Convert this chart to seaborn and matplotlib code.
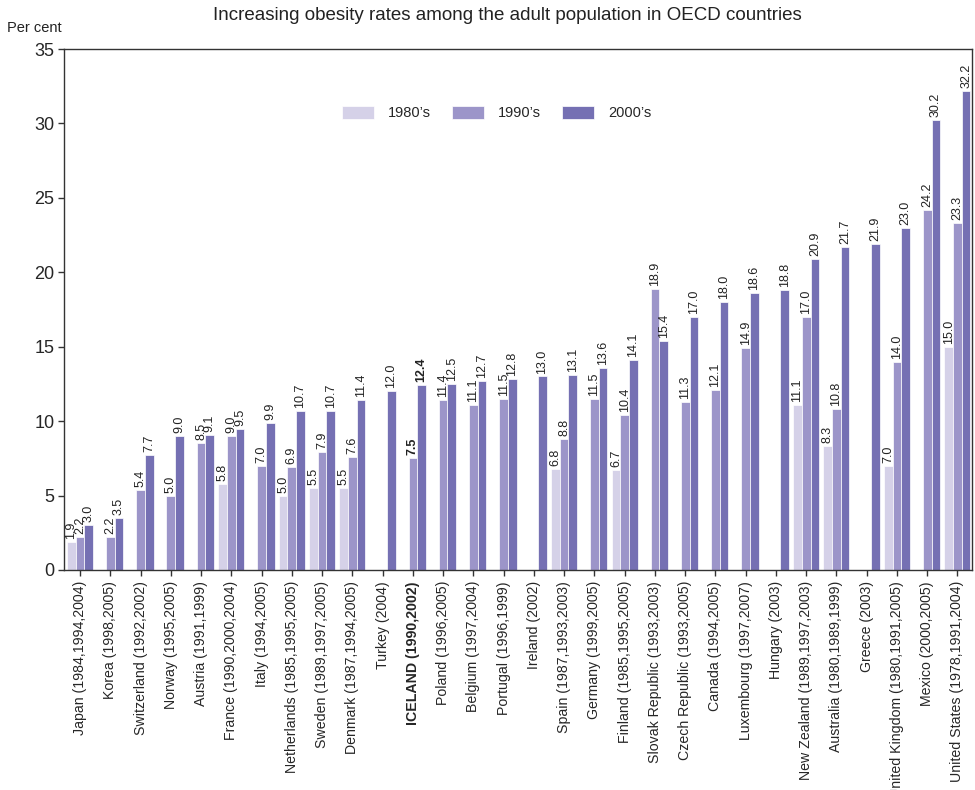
import numpy as np
import pandas as pd
import matplotlib
matplotlib.use("Agg")
import matplotlib.pyplot as plt
import seaborn as sns

countries = [
    "Japan (1984,1994,2004)", "Korea (1998,2005)", "Switzerland (1992,2002)",
    "Norway (1995,2005)", "Austria (1991,1999)", "France (1990,2000,2004)",
    "Italy (1994,2005)", "Netherlands (1985,1995,2005)", "Sweden (1989,1997,2005)",
    "Denmark (1987,1994,2005)", "Turkey (2004)", "ICELAND (1990,2002)",
    "Poland (1996,2005)", "Belgium (1997,2004)", "Portugal (1996,1999)",
    "Ireland (2002)", "Spain (1987,1993,2003)", "Germany (1999,2005)",
    "Finland (1985,1995,2005)", "Slovak Republic (1993,2003)",
    "Czech Republic (1993,2005)", "Canada (1994,2005)", "Luxembourg (1997,2007)",
    "Hungary (2003)", "New Zealand (1989,1997,2003)", "Australia (1980,1989,1999)",
    "Greece (2003)", "United Kingdom (1980,1991,2005)", "Mexico (2000,2005)",
    "United States (1978,1991,2004)",
]
nan = np.nan
rate_1980s = [1.9, nan, nan, nan, nan, 5.8, nan, 5.0, 5.5, 5.5, nan, nan,
              nan, nan, nan, nan, 6.8, nan, 6.7, nan, nan, nan, nan, nan,
              11.1, 8.3, nan, 7.0, nan, 15.0]
rate_1990s = [2.2, 2.2, 5.4, 5.0, 8.5, 9.0, 7.0, 6.9, 7.9, 7.6, nan, 7.5,
              11.4, 11.1, 11.5, nan, 8.8, 11.5, 10.4, 18.9, 11.3, 12.1, 14.9, nan,
              17.0, 10.8, nan, 14.0, 24.2, 23.3]
rate_2000s = [3.0, 3.5, 7.7, 9.0, 9.1, 9.5, 9.9, 10.7, 10.7, 11.4, 12.0, 12.4,
              12.5, 12.7, 12.8, 13.0, 13.1, 13.6, 14.1, 15.4, 17.0, 18.0, 18.6, 18.8,
              20.9, 21.7, 21.9, 23.0, 30.2, 32.2]
decades = ["1980\u2019s", "1990\u2019s", "2000\u2019s"]
palette = ["#d5d1e8", "#9c95c9", "#7570b3"]
highlight = "ICELAND (1990,2002)"

frames = []
for dec, vals in zip(decades, [rate_1980s, rate_1990s, rate_2000s]):
    frames.append(pd.DataFrame({"country": countries, "decade": dec, "rate": vals}))
df = pd.concat(frames, ignore_index=True).dropna()

sns.set_style("ticks")
plt.rcParams["font.family"] = ["Liberation Sans", "DejaVu Sans"]

fig = plt.figure(figsize=(9.75, 7.90), dpi=100)
ax = fig.add_axes([64 / 975, 1 - 570 / 790, (972 - 64) / 975, (570 - 49) / 790])

sns.barplot(data=df, x="country", y="rate", hue="decade", order=countries,
            hue_order=decades, palette=palette, width=0.86, dodge=True,
            edgecolor="white", linewidth=0.5, saturation=1, ax=ax,
            errorbar=None, legend=True)

# value labels above each bar
for cont in ax.containers:
    for bar in cont:
        h = bar.get_height()
        if not np.isfinite(h):
            continue
        cx = bar.get_x() + bar.get_width() / 2
        idx = int(round(cx))
        bold = countries[idx] == highlight
        ax.text(cx, h + 0.2, f"{h:.1f}", rotation=90, ha="center", va="bottom",
                fontsize=9, color="#222222",
                fontweight="bold" if bold else "normal")

ax.set_ylim(0, 35)
ax.set_yticks(range(0, 36, 5))
ax.set_xlim(-0.53, len(countries) - 0.52)
ax.set_xlabel("")
ax.set_ylabel("")
ax.tick_params(axis="y", labelsize=13, length=4, width=1, color="#333333", pad=3)
ax.tick_params(axis="x", labelsize=10.2, length=4, width=1, color="#333333", pad=4)
ax.set_xticks(range(len(countries)))
ax.set_xticklabels(countries, rotation=90, va="top", ha="center")
for lbl in ax.get_xticklabels():
    if lbl.get_text() == highlight:
        lbl.set_fontweight("bold")
for sp in ax.spines.values():
    sp.set_visible(True)
    sp.set_color("#333333")
    sp.set_linewidth(1)

handles, labels = ax.get_legend_handles_labels()
ax.legend(handles, labels, loc="center", bbox_to_anchor=(497 / 975, 1 - 113 / 790),
          bbox_transform=fig.transFigure, ncol=3, frameon=False, fontsize=10.5,
          handlelength=2.15, handleheight=1.05, handletextpad=1.0,
          columnspacing=1.45)

fig.text(507 / 975, 1 - 15 / 790,
         "Increasing obesity rates among the adult population in OECD countries",
         ha="center", va="center", fontsize=13.5, color="#222222")
fig.text(7 / 975, 1 - 28 / 790, "Per cent", ha="left", va="center",
         fontsize=10.5, color="#222222")

fig.savefig("out.png", dpi=100)
